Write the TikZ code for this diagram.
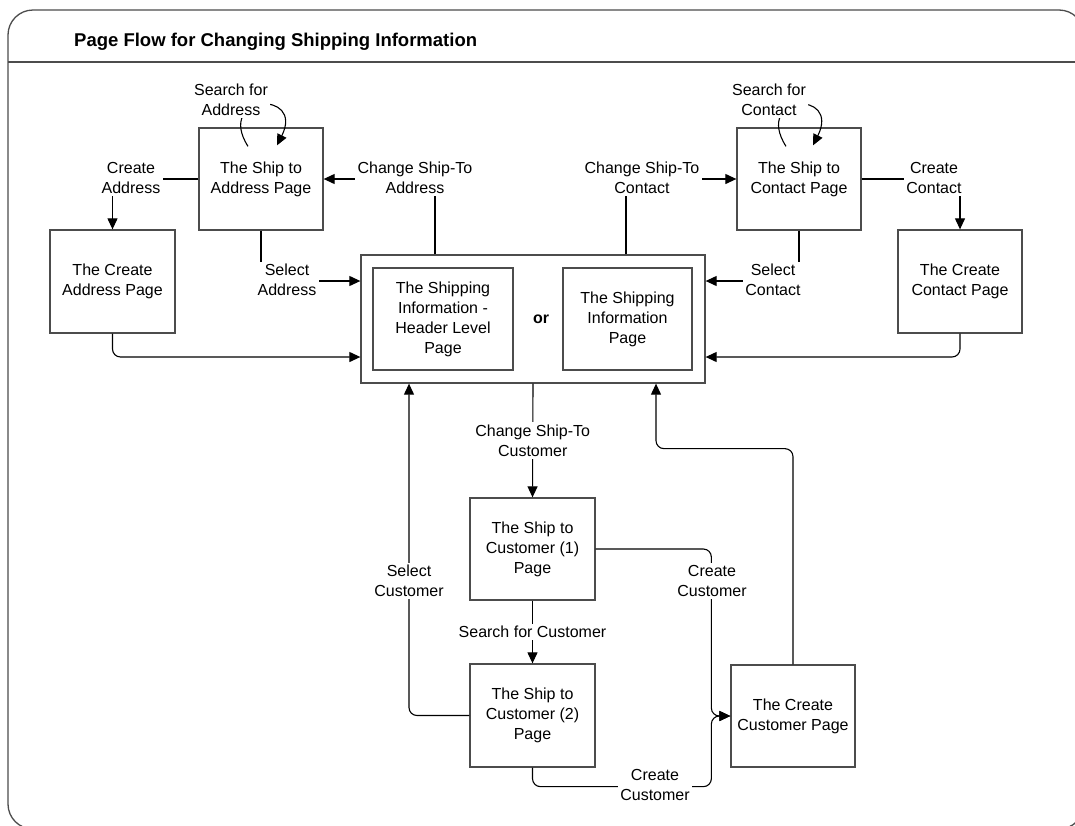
\documentclass[tikz,border=0pt]{standalone}
\usepackage{fontspec}
\setmainfont{Liberation Sans}
\usetikzlibrary{arrows.meta}

\tikzset{
  page/.style={draw=black!70, line width=1.3pt, align=center, inner sep=0pt,
    minimum width=124pt, minimum height=102pt,
    font=\fontsize{16}{20}\selectfont},
  lbl/.style={fill=white, inner sep=2.5pt, align=center,
    font=\fontsize{16}{20}\selectfont},
  conn/.style={draw=black, line width=1.1pt},
  arr/.style={conn, -{Triangle[length=11pt,width=10pt]}},
  softturn/.style={rounded corners=8pt},
}

\begin{document}
\begin{tikzpicture}[x=1pt, y=-1pt]
\useasboundingbox (0,0) rectangle (1075,825);
\clip (0,0) rectangle (1075,825);

% frame with its title bar
\draw[black!70, line width=1.3pt, rounded corners=25pt] (8,10) rectangle (1084,829);
\draw[black!70, line width=1.3pt] (8,62) -- (1084,62);
\node[anchor=west, inner sep=0pt, font=\fontsize{18.5}{22}\selectfont\bfseries]
  (title) at (74,42) {Page Flow for Changing Shipping Information};

% pages
\node[page] (sa) at (261,179) {The Ship to\\Address Page};
\node[page, minimum width=125pt, minimum height=103pt] (ca) at (112.5,281.5) {The Create\\Address Page};
\node[page, minimum width=344pt, minimum height=128pt] (outer) at (533,319) {};
\node[page, minimum width=140pt] (inL) at (443,319) {The Shipping\\Information -\\Header Level\\Page};
\node[page, minimum width=129pt] (inR) at (627.5,319) {The Shipping\\Information\\Page};
\node[inner sep=0pt, font=\fontsize{16}{20}\selectfont\bfseries] (or) at (541,319) {or};
\node[page] (sc) at (799,179) {The Ship to\\Contact Page};
\node[page, minimum height=103pt] (cc) at (960,281.5) {The Create\\Contact Page};
\node[page, minimum width=125pt] (c1) at (532.5,549) {The Ship to\\Customer (1)\\Page};
\node[page, minimum width=125pt, minimum height=103pt] (c2) at (532.5,715.5) {The Ship to\\Customer (2)\\Page};
\node[page] (cu) at (793,716) {The Create\\Customer Page};

% address side
\draw[arr] ([shift={(-13,19)}]sa.north) .. controls +(-33,-52) and +(28,-56) .. ([shift={(16,18)}]sa.north);
\node[lbl] (lsa) at (231,100) {Search for\\Address};
\draw[arr] ([shift={(-98,0)}]outer.north) |- (sa.east);
\node[lbl] (lca) at (415,178) {Change Ship-To\\Address};
\draw[arr] (sa.west) -| (ca.north);
\node[lbl] (lcra) at (131,178) {Create\\Address};
\draw[arr] (sa.south) |- ([shift={(0,-38)}]outer.west);
\node[lbl] (lsel) at (287,280) {Select\\Address};
\draw[arr, softturn] (ca.south) |- ([shift={(0,38)}]outer.west);

% contact side
\draw[arr] ([shift={(-13,19)}]sc.north) .. controls +(-33,-52) and +(28,-56) .. ([shift={(14,18)}]sc.north);
\node[lbl] (lsc) at (769,100) {Search for\\Contact};
\draw[arr] ([shift={(93,0)}]outer.north) |- (sc.west);
\node[lbl] (lcc) at (642,178) {Change Ship-To\\Contact};
\draw[arr] (sc.east) -| (cc.north);
\node[lbl] (lcrc) at (934,178) {Create\\Contact};
\draw[arr] (sc.south) |- ([shift={(0,-38)}]outer.east);
\node[lbl] (lselc) at (773,280) {Select\\Contact};
\draw[arr, softturn] (cc.south) |- ([shift={(0,38)}]outer.east);

% customer branch
\draw[arr] (outer.south) -- (c1.north) node[lbl, midway] (lcu) {Change Ship-To\\Customer};
\draw[arr] (c1.south) -- (c2.north) node[lbl, midway] (lsfc) {Search for Customer};
\draw[arr, softturn] (c2.west) -| ([shift={(-124,0)}]outer.south);
\node[lbl] (lselcu) at (409,581) {Select\\Customer};
\draw[arr, softturn] (c1.east) -| ([shift={(-19,0)}]cu.west) -- (cu.west);
\node[lbl] (lcrcu1) at (712,581) {Create\\Customer};
\draw[arr, softturn] (c2.south) -- ++(0,19) -| ([shift={(-19,0)}]cu.west) -- (cu.west);
\node[lbl] (lcrcu2) at (655,785) {Create\\Customer};
\draw[arr, softturn] (cu.north) |- ([shift={(123,65)}]outer.south) -- ([shift={(123,0)}]outer.south);
\end{tikzpicture}
\end{document}
